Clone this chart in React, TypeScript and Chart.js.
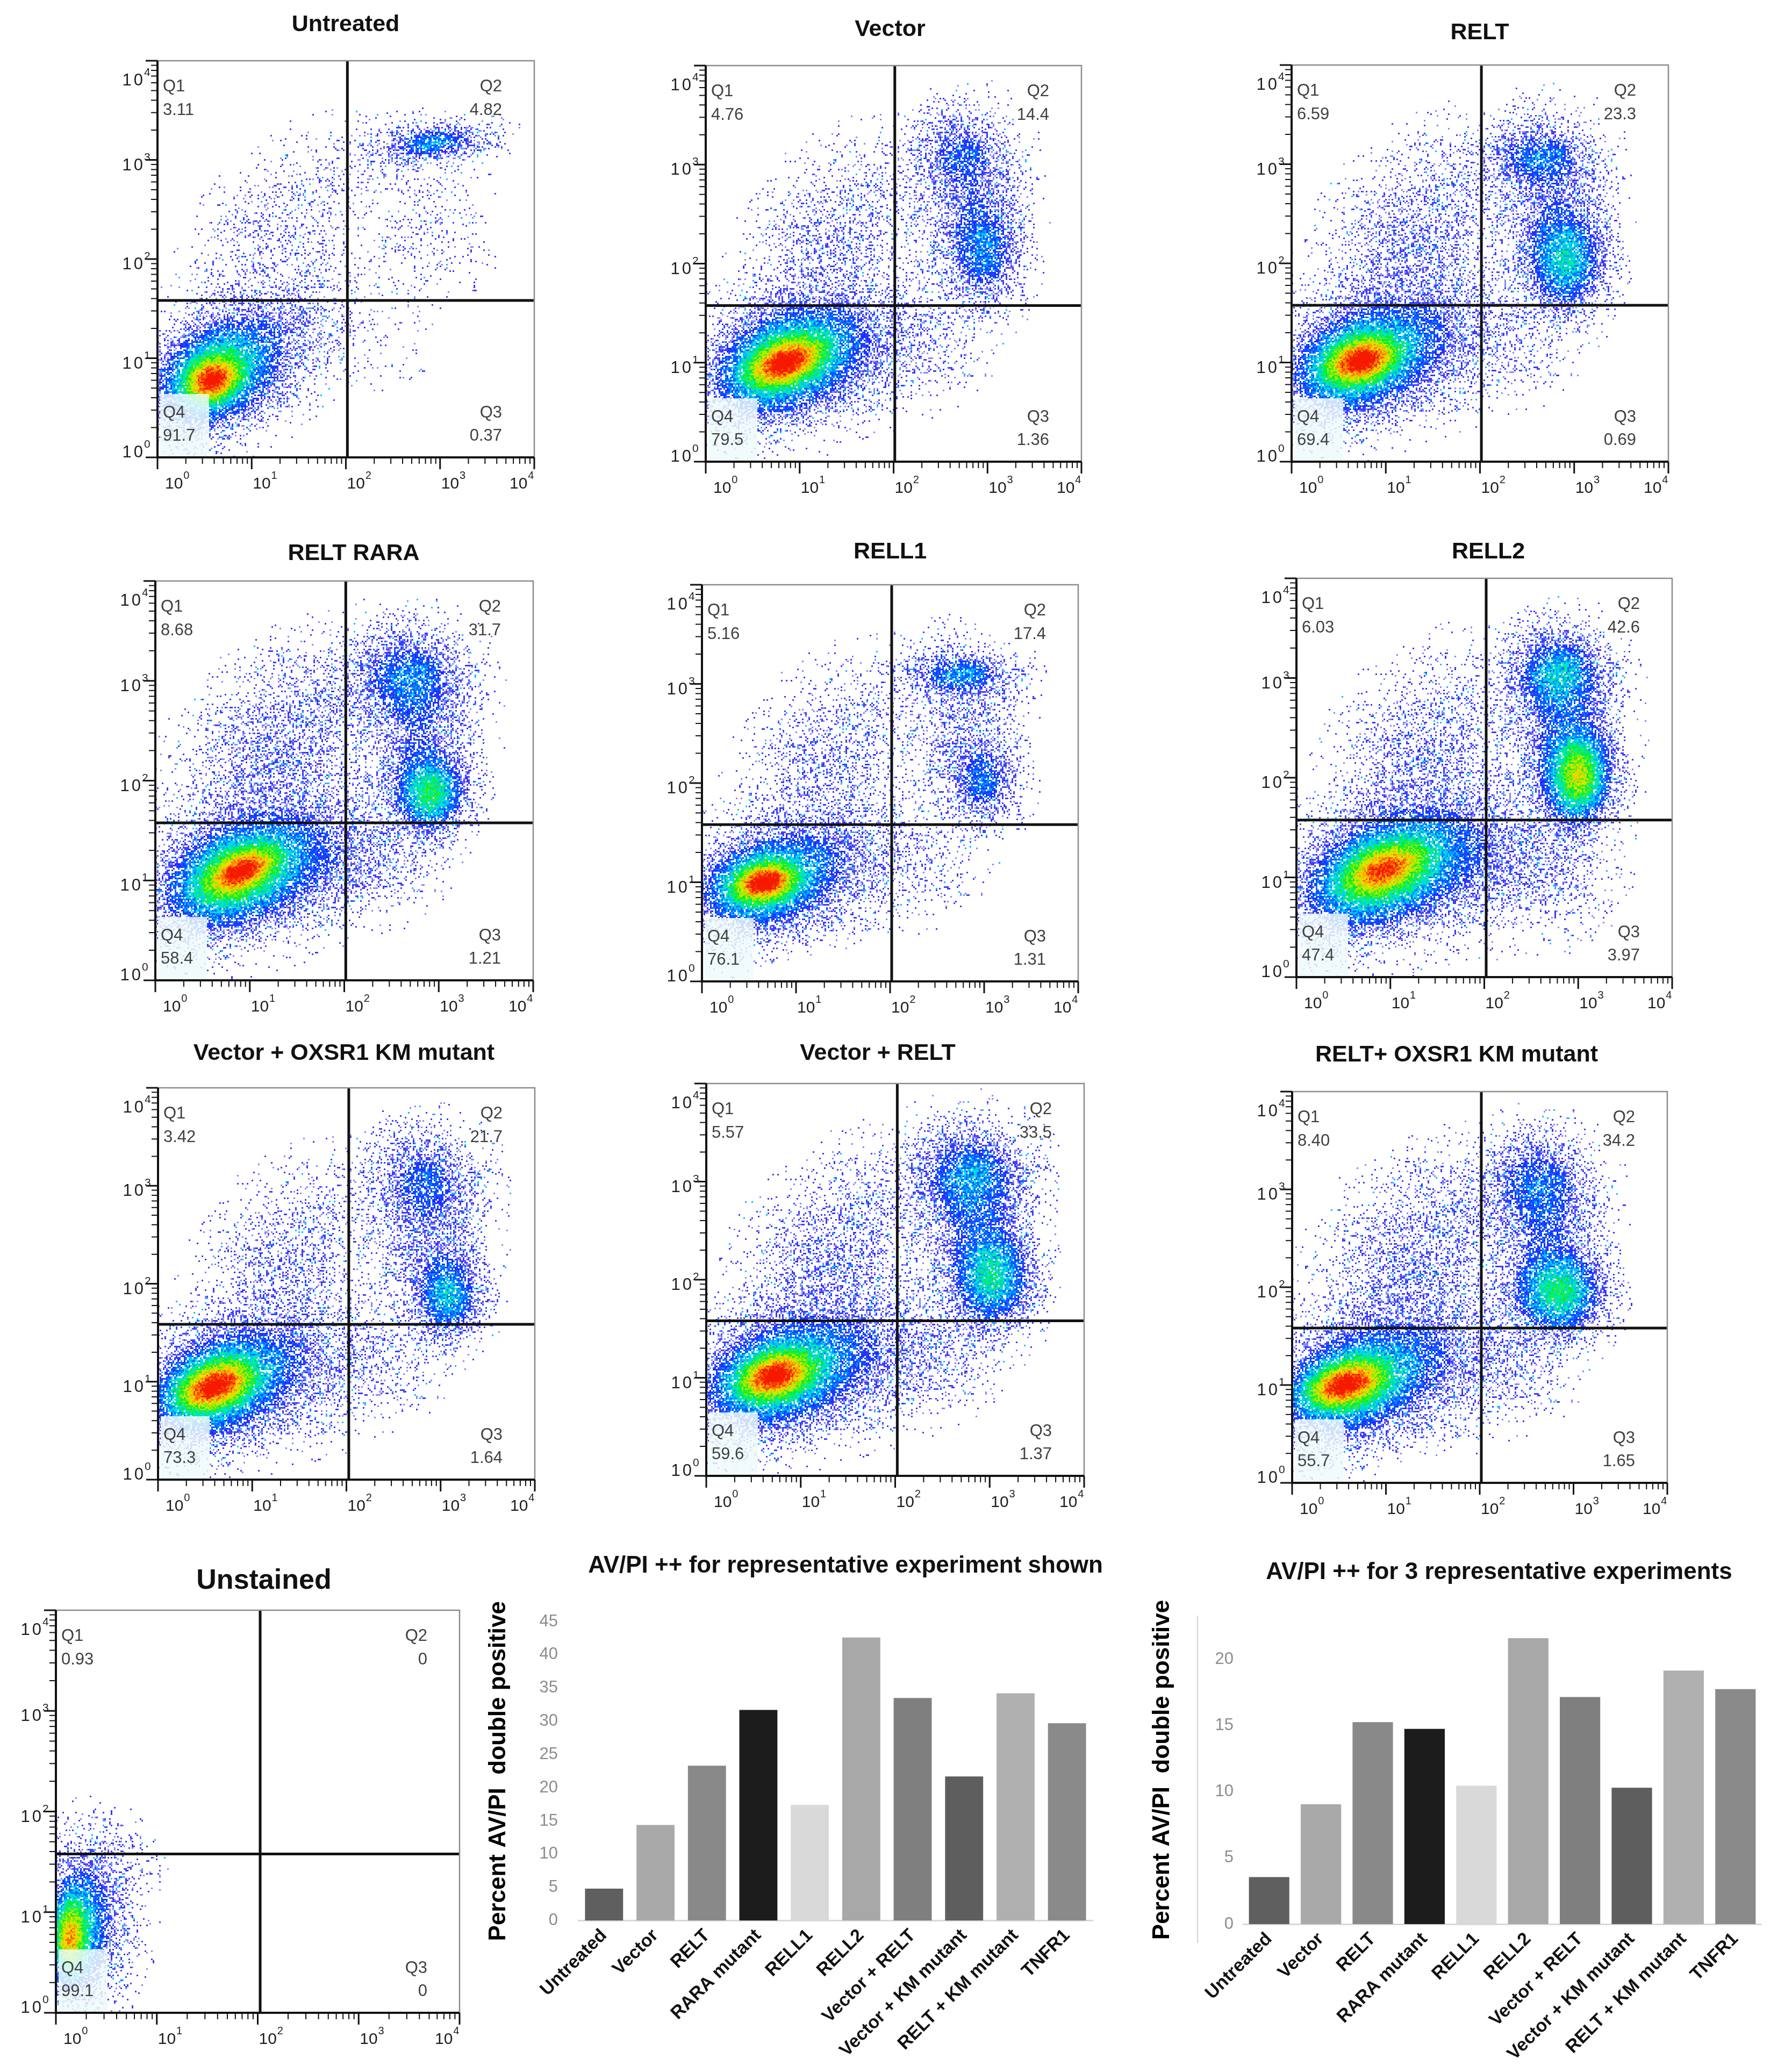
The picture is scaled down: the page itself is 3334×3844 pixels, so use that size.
import React, { useEffect, useRef } from 'react';
import { Chart, registerables } from 'chart.js';

Chart.register(...registerables);

const FONT = "'Liberation Sans', Arial, Helvetica, sans-serif";

// ---------------- data ----------------
const PLOT_TITLES = [
  'Untreated', 'Vector', 'RELT',
  'RELT RARA', 'RELL1', 'RELL2',
  'Vector + OXSR1 KM mutant', 'Vector + RELT', 'RELT+ OXSR1 KM mutant',
  'Unstained',
];
const Q1_VALUES = ['3.11', '4.76', '6.59', '8.68', '5.16', '6.03', '3.42', '5.57', '8.40', '0.93'];
const Q2_VALUES = ['4.82', '14.4', '23.3', '31.7', '17.4', '42.6', '21.7', '33.5', '34.2', '0'];
const Q3_VALUES = ['0.37', '1.36', '0.69', '1.21', '1.31', '3.97', '1.64', '1.37', '1.65', '0'];
const Q4_VALUES = ['91.7', '79.5', '69.4', '58.4', '76.1', '47.4', '73.3', '59.6', '55.7', '99.1'];
// quadrant gates, log10 units
const GATE_X_LOG = [2.016, 2.013, 2.015, 2.016, 2.017, 2.02, 2.025, 2.022, 2.017, 2.024];
const GATE_Y_LOG = [1.583, 1.577, 1.577, 1.577, 1.581, 1.576, 1.586, 1.581, 1.582, 1.578];
const AXIS_DECADES = [0, 1, 2, 3, 4];

// cell populations:
// [centre log10 x, centre log10 y, spread x (decades), spread y (decades), tilt (deg), relative density]
const POP_UNTREATED = [
  [0.58, 0.77, 0.17, 0.12, 20, 3.0],
  [0.55, 0.82, 0.36, 0.28, 25, 2.3],
  [0.8, 0.92, 0.55, 0.34, 35, 1.3],
  [1.5, 1.35, 0.5, 0.32, 30, 0.3],
  [1.3, 2.35, 0.65, 0.38, 45, 0.32],
  [2.95, 3.18, 0.34, 0.1, 5, 1.4],
  [2.8, 3.12, 0.42, 0.16, 10, 0.45],
  [2.85, 2.3, 0.42, 0.42, 0, 0.22],
  [2.4, 1.0, 0.4, 0.32, 0, 0.06],
];
const POP_VECTOR = [
  [0.85, 1.0, 0.25, 0.12, 20, 2.8],
  [0.8, 1.0, 0.43, 0.28, 20, 2.3],
  [0.95, 1.02, 0.62, 0.36, 20, 1.4],
  [1.75, 1.25, 0.45, 0.4, 20, 0.35],
  [1.35, 2.3, 0.62, 0.4, 45, 0.5],
  [2.7, 3.12, 0.3, 0.22, 0, 1.0],
  [2.98, 2.1, 0.22, 0.33, 0, 1.3],
  [2.8, 2.55, 0.34, 0.52, 0, 0.8],
  [2.35, 1.15, 0.38, 0.32, 0, 0.2],
];
const POP_RELT = [
  [0.75, 1.02, 0.22, 0.12, 15, 2.9],
  [0.65, 1.0, 0.4, 0.27, 15, 2.3],
  [0.88, 1.05, 0.6, 0.35, 25, 1.4],
  [1.7, 1.3, 0.45, 0.4, 20, 0.45],
  [1.3, 2.3, 0.65, 0.42, 45, 0.65],
  [2.6, 3.08, 0.33, 0.18, 0, 1.3],
  [2.92, 2.0, 0.25, 0.3, 0, 2.0],
  [2.78, 2.5, 0.34, 0.52, 0, 0.9],
  [2.3, 1.1, 0.38, 0.3, 0, 0.2],
];
const POP_RELT_RARA = [
  [0.92, 1.1, 0.22, 0.1, 25, 2.6],
  [0.85, 1.05, 0.43, 0.27, 20, 2.4],
  [0.9, 1.05, 0.65, 0.36, 20, 1.4],
  [1.8, 1.3, 0.45, 0.42, 20, 0.5],
  [1.3, 2.35, 0.65, 0.44, 45, 0.75],
  [2.66, 3.06, 0.36, 0.26, 0, 1.4],
  [2.92, 1.86, 0.22, 0.22, 0, 2.6],
  [2.8, 2.4, 0.34, 0.52, 0, 1.0],
  [2.3, 1.2, 0.38, 0.3, 0, 0.32],
];
const POP_RELL1 = [
  [0.67, 1.0, 0.18, 0.1, 10, 3.0],
  [0.6, 0.98, 0.36, 0.23, 10, 2.4],
  [0.82, 1.03, 0.56, 0.33, 20, 1.4],
  [1.6, 1.3, 0.45, 0.38, 20, 0.4],
  [1.35, 2.3, 0.6, 0.4, 45, 0.5],
  [2.74, 3.1, 0.34, 0.13, 0, 1.6],
  [3.0, 2.0, 0.2, 0.24, 0, 1.3],
  [2.8, 2.5, 0.34, 0.5, 0, 0.65],
  [2.3, 1.15, 0.38, 0.32, 0, 0.22],
];
const POP_RELL2 = [
  [0.93, 1.08, 0.25, 0.12, 20, 2.0],
  [0.9, 1.05, 0.48, 0.28, 20, 2.4],
  [1.0, 1.05, 0.68, 0.38, 20, 1.4],
  [1.9, 1.3, 0.45, 0.42, 20, 0.5],
  [1.35, 2.3, 0.6, 0.42, 45, 0.6],
  [2.78, 3.06, 0.3, 0.23, 0, 1.9],
  [3.01, 2.0, 0.2, 0.27, 0, 3.4],
  [2.85, 2.4, 0.34, 0.52, 0, 1.2],
  [2.6, 1.0, 0.42, 0.35, 0, 0.45],
];
const POP_VECTOR_KM = [
  [0.6, 0.95, 0.25, 0.13, 20, 2.8],
  [0.55, 0.95, 0.4, 0.27, 20, 2.3],
  [0.82, 1.0, 0.6, 0.36, 25, 1.4],
  [1.7, 1.2, 0.45, 0.42, 20, 0.4],
  [1.4, 2.3, 0.6, 0.42, 45, 0.5],
  [2.8, 3.08, 0.33, 0.27, 0, 1.0],
  [3.09, 1.85, 0.2, 0.25, 0, 2.0],
  [2.9, 2.5, 0.34, 0.52, 0, 0.85],
  [2.4, 1.2, 0.38, 0.32, 0, 0.24],
];
const POP_VECTOR_RELT = [
  [0.72, 1.02, 0.22, 0.12, 15, 2.8],
  [0.7, 1.0, 0.43, 0.27, 15, 2.3],
  [0.9, 1.05, 0.62, 0.37, 20, 1.4],
  [1.8, 1.3, 0.45, 0.42, 20, 0.5],
  [1.35, 2.3, 0.65, 0.42, 45, 0.65],
  [2.78, 3.08, 0.36, 0.27, 0, 1.5],
  [3.05, 2.0, 0.25, 0.3, 0, 2.2],
  [2.85, 2.5, 0.34, 0.52, 0, 1.0],
  [2.4, 1.2, 0.38, 0.32, 0, 0.32],
];
const POP_RELT_KM = [
  [0.55, 1.0, 0.25, 0.12, 15, 2.8],
  [0.55, 1.0, 0.43, 0.27, 15, 2.3],
  [0.82, 1.05, 0.6, 0.36, 25, 1.4],
  [1.7, 1.3, 0.45, 0.42, 20, 0.5],
  [1.3, 2.35, 0.65, 0.44, 45, 0.7],
  [2.6, 3.08, 0.33, 0.27, 0, 1.2],
  [2.86, 1.93, 0.28, 0.25, 0, 2.5],
  [2.72, 2.45, 0.34, 0.52, 0, 1.0],
  [2.3, 1.2, 0.38, 0.32, 0, 0.32],
];
const POP_UNSTAINED = [
  [0.12, 0.72, 0.1, 0.25, 0, 2.6],
  [0.2, 0.8, 0.17, 0.38, 0, 1.9],
  [0.35, 0.95, 0.26, 0.48, 0, 1.0],
  [0.6, 1.5, 0.3, 0.25, 0, 0.15],
];
const POPULATIONS = [
  POP_UNTREATED, POP_VECTOR, POP_RELT,
  POP_RELT_RARA, POP_RELL1, POP_RELL2,
  POP_VECTOR_KM, POP_VECTOR_RELT, POP_RELT_KM,
  POP_UNSTAINED,
];

const CATEGORIES = [
  'Untreated', 'Vector', 'RELT', 'RARA mutant', 'RELL1', 'RELL2',
  'Vector + RELT', 'Vector + KM mutant', 'RELT + KM mutant', 'TNFR1',
];
const REP_VALUES = [4.82, 14.4, 23.3, 31.7, 17.4, 42.6, 33.5, 21.7, 34.2, 29.7];
const MEAN_VALUES = [3.55, 9.05, 15.25, 14.75, 10.45, 21.6, 17.15, 10.3, 19.15, 17.75];
const BAR_COLORS = ['#5f5f5f', '#a9a9a9', '#898989', '#1c1c1c', '#d9d9d9', '#a8a8a8', '#7f7f7f', '#5e5e5e', '#b0b0b0', '#8a8a8a'];
const BAR_TITLES = ['AV/PI ++ for representative experiment shown', 'AV/PI ++ for 3 representative experiments'];
const Y_TITLE = 'Percent AV/PI  double positive';

// ---------------- layout (page pixels) ----------------
const PANEL_BOXES = [
  [293, 113, 994, 851], [1313, 122, 2012, 859], [2403, 121, 3104, 859],
  [289, 1081, 992, 1824], [1306, 1088, 2006, 1826], [2412, 1076, 3111, 1818],
  [294, 2024, 995, 2753], [1314, 2016, 2017, 2746], [2404, 2031, 3102, 2759],
  [104, 2996, 855, 3745],
];
const TITLE_CENTERS = [
  [643, 46], [1656, 55], [2753, 61],
  [658, 1030], [1656, 1027], [2769, 1027],
  [640, 1960], [1633, 1960], [2710, 1963],
  [491, 2942],
];
const PAD_L = 110, PAD_T = 110, PAD_R = 60, PAD_B = 75;

function flowFrame(k: number) {
  const [L, T, R, B] = PANEL_BOXES[k];
  return { left: L - PAD_L, top: T - PAD_T, w: R - L + PAD_L + PAD_R, h: B - T + PAD_T + PAD_B };
}

const BAR_FRAMES = [
  { left: 890, top: 2880, w: 1170, h: 964 },
  { left: 2120, top: 2880, w: 1214, h: 964 },
];

// ---------------- rendering helpers ----------------
function hash2(i: number, j: number): number {
  let h = (Math.imul(i, 374761393) + Math.imul(j, 668265263)) | 0;
  h = Math.imul(h ^ (h >>> 13), 1274126177);
  h = h ^ (h >>> 16);
  return (h >>> 0) / 4294967296;
}

const RAMP: [number, number[]][] = [
  [1.0, [40, 40, 255]],
  [1.7, [0, 100, 255]],
  [2.3, [0, 210, 255]],
  [2.8, [0, 240, 170]],
  [3.3, [0, 235, 30]],
  [4.0, [170, 240, 0]],
  [4.6, [255, 215, 0]],
  [5.2, [255, 120, 0]],
  [5.8, [245, 25, 0]],
];

function rampColor(level: number): number[] {
  if (level <= RAMP[0][0]) return RAMP[0][1];
  for (let k = 1; k < RAMP.length; k++) {
    if (level <= RAMP[k][0]) {
      const [a0, c0] = RAMP[k - 1];
      const [a1, c1] = RAMP[k];
      const t = (level - a0) / (a1 - a0);
      return c0.map((c, n) => c + (c1[n] - c) * t);
    }
  }
  return RAMP[RAMP.length - 1][1];
}

function makeFlowPlugin(k: number) {
  const frame = flowFrame(k);
  return {
    id: 'flowPanel' + k,
    beforeDatasetsDraw(chart: any) {
      const { ctx, chartArea: a, scales } = chart;
      const xs = scales.x, ys = scales.y;
      const cell = 3;
      const w = Math.ceil((a.right - a.left) / cell);
      const h = Math.ceil((a.bottom - a.top) / cell);
      const lx = new Float64Array(w), ly = new Float64Array(h);
      for (let i = 0; i < w; i++) lx[i] = Math.log10(xs.getValueForPixel(a.left + (i + 0.5) * cell));
      for (let j = 0; j < h; j++) ly[j] = Math.log10(ys.getValueForPixel(a.top + (j + 0.5) * cell));
      const pops = POPULATIONS[k].map((p) => {
        const t = (p[4] * Math.PI) / 180;
        return [p[0], p[1], Math.cos(t), Math.sin(t), 1 / (p[2] * p[2]), 1 / (p[3] * p[3]), p[5]];
      });
      const off = document.createElement('canvas');
      off.width = w; off.height = h;
      const octx = off.getContext('2d')!;
      const img = octx.createImageData(w, h);
      const px = img.data;
      for (let j = 0; j < h; j++) {
        for (let i = 0; i < w; i++) {
          let d = 0;
          for (let q = 0; q < pops.length; q++) {
            const p = pops[q];
            const dx = lx[i] - p[0], dy = ly[j] - p[1];
            const u = dx * p[2] + dy * p[3];
            const v = -dx * p[3] + dy * p[2];
            const e = u * u * p[4] + v * v * p[5];
            if (e < 30) d += p[6] * Math.exp(-0.5 * e);
          }
          if (d < 0.03) continue;
          const r1 = hash2(i, j), r2 = hash2(i + 9173, j + 3371);
          const prob = d < 1.5 ? 0.5 * d : Math.min(1, 0.75 + 0.14 * (d - 1.5));
          if (r1 >= prob) continue;
          let c: number[];
          if (d < 1.1) c = r2 > 0.92 ? [0, 195, 255] : r2 < 0.3 ? [135, 135, 255] : [60, 60, 255];
          else c = rampColor(d + (r2 - 0.5) * 1.3);
          const o = (j * w + i) * 4;
          px[o] = c[0]; px[o + 1] = c[1]; px[o + 2] = c[2]; px[o + 3] = 255;
        }
      }
      octx.putImageData(img, 0, 0);
      ctx.save();
      ctx.beginPath();
      ctx.rect(a.left, a.top, a.right - a.left, a.bottom - a.top);
      ctx.clip();
      ctx.imageSmoothingEnabled = false;
      ctx.drawImage(off, a.left, a.top, w * cell, h * cell);
      ctx.fillStyle = 'rgba(240,250,250,0.85)';
      ctx.fillRect(a.left + 5, a.bottom - 118, 91, 117);
      ctx.restore();
    },
    afterDraw(chart: any) {
      const { ctx, chartArea: a, scales } = chart;
      const xs = scales.x, ys = scales.y;
      ctx.save();
      // frame
      ctx.strokeStyle = '#8c8c8c';
      ctx.lineWidth = 2.5;
      ctx.strokeRect(a.left, a.top, a.right - a.left, a.bottom - a.top);
      ctx.strokeStyle = '#111';
      ctx.lineWidth = 4;
      ctx.beginPath();
      ctx.moveTo(a.left, a.top);
      ctx.lineTo(a.left, a.bottom);
      ctx.lineTo(a.right, a.bottom);
      ctx.stroke();
      // ticks
      for (let dec = 0; dec <= 4; dec++) {
        for (let m = 1; m <= 9; m++) {
          if (dec === 4 && m > 1) break;
          const v = m * Math.pow(10, dec);
          const major = m === 1;
          const len = major ? 22 : 12;
          ctx.lineWidth = major ? 3 : 2;
          const tx = xs.getPixelForValue(v);
          const ty = ys.getPixelForValue(v);
          ctx.beginPath();
          ctx.moveTo(tx, a.bottom);
          ctx.lineTo(tx, a.bottom + len);
          ctx.moveTo(a.left, ty);
          ctx.lineTo(a.left - len, ty);
          ctx.stroke();
        }
      }
      // tick labels 10^n
      ctx.fillStyle = '#1e1e1e';
      ctx.textBaseline = 'alphabetic';
      AXIS_DECADES.forEach((e) => {
        const v = Math.pow(10, e);
        // x axis
        const tx = xs.getPixelForValue(v);
        const sx = Math.min(Math.max(tx + 2, a.left + 14), a.right - 46);
        ctx.font = `30px ${FONT}`;
        ctx.textAlign = 'left';
        ctx.fillText('10', sx, a.bottom + 58);
        const w10 = ctx.measureText('10').width;
        ctx.font = `20px ${FONT}`;
        ctx.fillText(String(e), sx + w10 + 1, a.bottom + 40);
        // y axis
        const ty = ys.getPixelForValue(v);
        const base = Math.min(Math.max(ty + 19, a.top + 46), a.bottom);
        ctx.font = `31px ${FONT}`;
        ctx.textAlign = 'right';
        ctx.fillText('0', a.left - 27, base);
        const w0 = ctx.measureText('0').width;
        ctx.fillText('1', a.left - 27 - w0 - 4, base);
        ctx.font = `21px ${FONT}`;
        ctx.textAlign = 'left';
        ctx.fillText(String(e), a.left - 25, base - 18);
      });
      // quadrant statistics
      ctx.fillStyle = '#404040';
      ctx.font = `31px ${FONT}`;
      ctx.textAlign = 'left';
      ctx.fillText('Q1', a.left + 10, a.top + 57);
      ctx.fillText(Q1_VALUES[k], a.left + 10, a.top + 101);
      ctx.fillText('Q4', a.left + 10, a.bottom - 74);
      ctx.fillText(Q4_VALUES[k], a.left + 10, a.bottom - 31);
      ctx.textAlign = 'right';
      ctx.fillText('Q2', a.right - 60, a.top + 57);
      ctx.fillText(Q2_VALUES[k], a.right - 60, a.top + 101);
      ctx.fillText('Q3', a.right - 60, a.bottom - 74);
      ctx.fillText(Q3_VALUES[k], a.right - 60, a.bottom - 31);
      // title
      ctx.fillStyle = '#111';
      ctx.font = `bold ${k === 9 ? 52 : 43}px ${FONT}`;
      ctx.textAlign = 'center';
      ctx.textBaseline = 'middle';
      ctx.fillText(PLOT_TITLES[k], TITLE_CENTERS[k][0] - frame.left, TITLE_CENTERS[k][1] - frame.top);
      ctx.restore();
    },
  };
}

function makeFlowChart(canvas: HTMLCanvasElement, k: number) {
  const gx = Math.pow(10, GATE_X_LOG[k]);
  const gy = Math.pow(10, GATE_Y_LOG[k]);
  const lineStyle = { showLine: true, borderColor: '#111', borderWidth: 5, pointRadius: 0, fill: false };
  return new Chart(canvas, {
    type: 'scatter',
    data: {
      datasets: [
        { ...lineStyle, data: [{ x: gx, y: 1 }, { x: gx, y: 10000 }] },
        { ...lineStyle, data: [{ x: 1, y: gy }, { x: 10000, y: gy }] },
      ],
    } as any,
    options: {
      responsive: false,
      animation: false,
      events: [],
      layout: { padding: { left: PAD_L, top: PAD_T, right: PAD_R, bottom: PAD_B } },
      plugins: { legend: { display: false }, tooltip: { enabled: false } },
      scales: {
        x: { type: 'logarithmic', min: 1, max: 10000, display: false },
        y: { type: 'logarithmic', min: 1, max: 10000, display: false },
      },
    } as any,
    plugins: [makeFlowPlugin(k)],
  });
}

const BAR_SPECS = [
  {
    values: REP_VALUES, yMax: 45, tickPad: 38, barPct: 0.74,
    padding: { left: 11, top: 137, right: 27, bottom: 0 }, yWidth: 175, xHeight: 270.5,
    titleAt: [1573, 2914], leftLine: false,
  },
  {
    values: MEAN_VALUES, yMax: 23.3, tickPad: 18, barPct: 0.78,
    padding: { left: 16.6, top: 126, right: 57, bottom: 0 }, yWidth: 176.4, xHeight: 264,
    titleAt: [2789, 2926], leftLine: true,
  },
];

function makeBarChart(canvas: HTMLCanvasElement, n: number) {
  const spec = BAR_SPECS[n];
  const frame = BAR_FRAMES[n];
  const decor = {
    id: 'barDecor' + n,
    afterDraw(chart: any) {
      const { ctx, chartArea: a } = chart;
      ctx.save();
      if (spec.leftLine) {
        ctx.strokeStyle = '#d9d9d9';
        ctx.lineWidth = 2.5;
        ctx.beginPath();
        ctx.moveTo(a.left - 85, a.top);
        ctx.lineTo(a.left - 85, a.bottom + 35);
        ctx.stroke();
      }
      ctx.fillStyle = '#111';
      ctx.font = `bold 44px ${FONT}`;
      ctx.textAlign = 'center';
      ctx.textBaseline = 'middle';
      ctx.fillText(BAR_TITLES[n], spec.titleAt[0] - frame.left, spec.titleAt[1] - frame.top);
      ctx.restore();
    },
  };
  return new Chart(canvas, {
    type: 'bar',
    data: {
      labels: CATEGORIES,
      datasets: [{
        data: spec.values,
        backgroundColor: BAR_COLORS,
        borderWidth: 0,
        barPercentage: spec.barPct,
        categoryPercentage: 1,
      }],
    },
    options: {
      responsive: false,
      animation: false,
      events: [],
      layout: { padding: spec.padding },
      plugins: { legend: { display: false }, tooltip: { enabled: false }, title: { display: false } },
      scales: {
        x: {
          grid: { display: false, drawTicks: false },
          border: { display: true, color: '#d9d9d9', width: 3 },
          ticks: {
            autoSkip: false, maxRotation: 45, minRotation: 45, padding: 8,
            color: '#111', font: { family: FONT, size: 34, weight: 'bold' },
          },
          afterFit: (s: any) => { s.height = spec.xHeight; },
        },
        y: {
          min: 0, max: spec.yMax,
          grid: { display: false, drawTicks: false },
          border: { display: false },
          ticks: {
            stepSize: 5, includeBounds: false, padding: spec.tickPad,
            color: '#8c8c8c', font: { family: FONT, size: 31 },
          },
          title: {
            display: true, text: Y_TITLE, color: '#000', padding: 0,
            font: { family: FONT, size: 44, weight: 'bold' },
          },
          afterFit: (s: any) => { s.width = spec.yWidth; },
        },
      },
    } as any,
    plugins: [decor],
  });
}

export default function App() {
  const flowRefs = useRef<(HTMLCanvasElement | null)[]>([]);
  const barRefs = useRef<(HTMLCanvasElement | null)[]>([]);

  useEffect(() => {
    const charts: Chart[] = [];
    PANEL_BOXES.forEach((_b, k) => {
      const c = flowRefs.current[k];
      if (c) charts.push(makeFlowChart(c, k));
    });
    BAR_FRAMES.forEach((_f, n) => {
      const c = barRefs.current[n];
      if (c) charts.push(makeBarChart(c, n));
    });
    return () => charts.forEach((c) => c.destroy());
  }, []);

  return (
    <div style={{ position: 'absolute', left: 0, top: 0, width: 3334, height: 3844, background: '#fff', overflow: 'hidden' }}>
      {PANEL_BOXES.map((_b, k) => {
        const f = flowFrame(k);
        return (
          <canvas
            key={'f' + k}
            ref={(el) => { flowRefs.current[k] = el; }}
            width={f.w}
            height={f.h}
            style={{ position: 'absolute', left: f.left, top: f.top, width: f.w, height: f.h }}
          />
        );
      })}
      {BAR_FRAMES.map((f, n) => (
        <canvas
          key={'b' + n}
          ref={(el) => { barRefs.current[n] = el; }}
          width={f.w}
          height={f.h}
          style={{ position: 'absolute', left: f.left, top: f.top, width: f.w, height: f.h }}
        />
      ))}
    </div>
  );
}
